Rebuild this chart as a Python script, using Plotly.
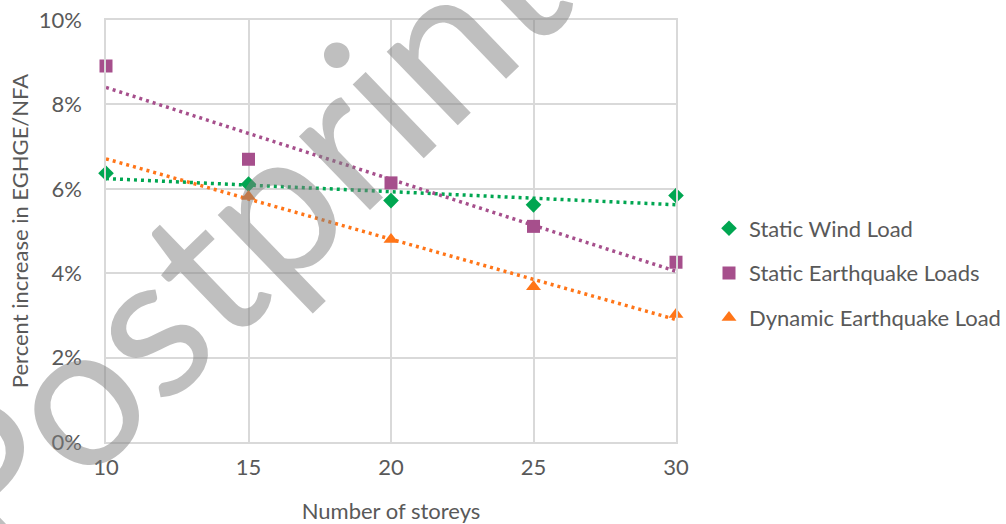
import numpy as np
import plotly.graph_objects as go

storeys = [10, 15, 20, 25, 30]
wind = [0.0637, 0.0611, 0.0572, 0.0562, 0.0584]
eq_static = [0.0891, 0.0670, 0.0614, 0.0511, 0.0426]
dyn_storeys = [15, 20, 25, 30]
eq_dynamic = [0.0582, 0.0480, 0.0368, 0.0302]

names = ["Static Wind Load", "Static Earthquake Loads", "Dynamic Earthquake Load"]
colors = ["#00A651", "#A64F8C", "#FF7518"]
symbols = ["diamond", "square", "triangle-up"]
sizes = [12, 13, 13]
xs = [storeys, storeys, dyn_storeys]
ys = [wind, eq_static, eq_dynamic]

FONT = "Lato"
TXT = "#595959"
GRID = "#D9D9D9"
FS = 22

fig = go.Figure()
x_ends = np.array([10, 30])
for i in range(3):
    k, b = np.polyfit(xs[i], ys[i], 1)
    fig.add_trace(go.Scatter(
        x=x_ends, y=k * x_ends + b, mode="lines",
        line=dict(color=colors[i], width=3.5, dash="3px,4px"),
        showlegend=False, hoverinfo="skip", cliponaxis=False))
for i in range(3):
    fig.add_trace(go.Scatter(
        x=xs[i], y=ys[i], mode="markers", name=names[i],
        legendgroup=str(i),
        marker=dict(symbol=symbols[i], size=sizes[i], color=colors[i]),
        cliponaxis=False))

fig.add_annotation(
    text="Postprint", xref="paper", yref="paper",
    x=(234 - 106) / 570, y=(442 - 233) / 422,
    xanchor="center", yanchor="middle",
    showarrow=False, textangle=-44,
    font=dict(family=FONT, size=202, color="rgba(127,127,127,0.5)"))

fig.update_layout(
    width=1006, height=524,
    margin=dict(l=106, r=330, t=20, b=82, autoexpand=False),
    paper_bgcolor="white", plot_bgcolor="white",
    font=dict(family=FONT, size=FS, color=TXT),
    legend=dict(x=(709 - 106) / 570, y=(442 - 273) / 422, xanchor="left",
                yanchor="middle", traceorder="grouped", tracegroupgap=13,
                font=dict(family=FONT, size=FS, color=TXT),
                bgcolor="rgba(0,0,0,0)"),
    xaxis=dict(range=[10, 30], dtick=5, tick0=10, showgrid=True, gridcolor=GRID,
               gridwidth=1.5, zeroline=False, showline=True, mirror=True,
               linecolor=GRID, linewidth=1.5, ticks="outside", ticklen=5,
               automargin=False,
               tickcolor="rgba(0,0,0,0)", tickfont=dict(size=FS, color=TXT),
               title=dict(text="Number of storeys", standoff=26,
                          font=dict(size=FS, color=TXT))),
    yaxis=dict(range=[0, 0.10], dtick=0.02, tickformat=".0%", showgrid=True,
               gridcolor=GRID, gridwidth=1.5, zeroline=False, showline=True,
               mirror=True, linecolor=GRID, linewidth=1.5, ticks="outside",
               ticklen=18, tickcolor="rgba(0,0,0,0)", automargin=False,
               tickfont=dict(size=FS, color=TXT),
               title=dict(text="Percent increase in EGHGE/NFA", standoff=4,
                          font=dict(size=FS, color=TXT))),
)

fig.write_html("out.html")
